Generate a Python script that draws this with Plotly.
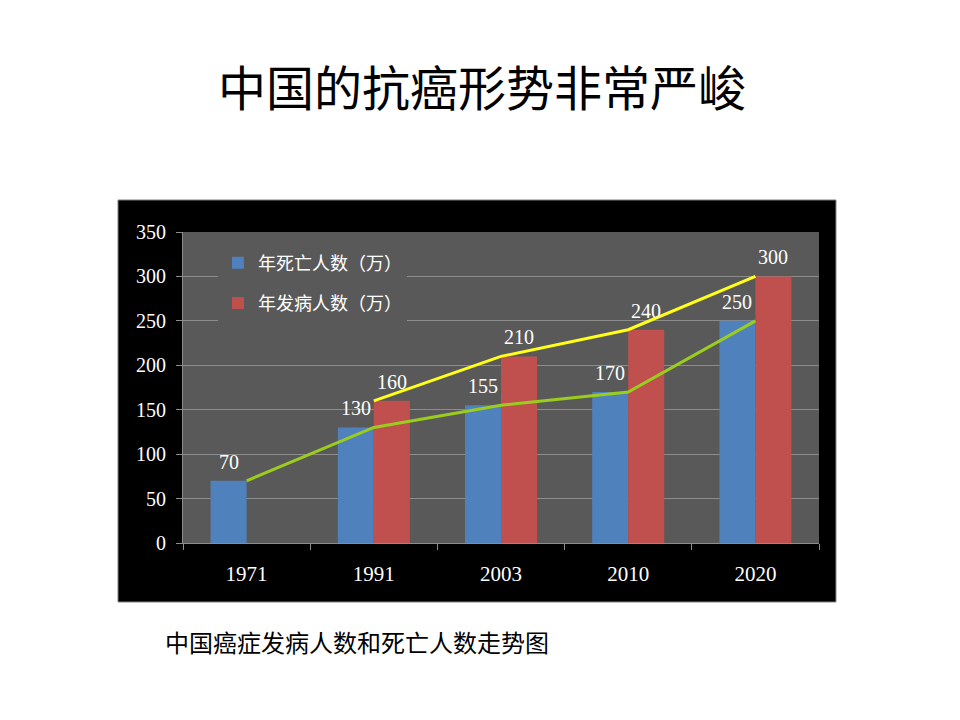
import plotly.graph_objects as go

# 中国癌症发病人数和死亡人数 (万)
years = ['1971', '1991', '2003', '2010', '2020']
deaths = [70, 130, 155, 170, 250]
cases = [None, 160, 210, 240, 300]

death_name = '年死亡人数（万）'
case_name = '年发病人数（万）'

serif = 'Liberation Serif, Noto Sans CJK SC, serif'
sans = 'Noto Sans CJK SC, sans-serif'

fig = go.Figure()

fig.add_trace(go.Bar(
    x=years, y=deaths, name=death_name, legendgroup='d',
    marker_color='#4F81BD', marker_line_width=0,
))
fig.add_trace(go.Bar(
    x=years, y=cases, name=case_name, legendgroup='c',
    marker_color='#C0504D', marker_line_width=0,
))

# trend lines
fig.add_trace(go.Scatter(
    x=years, y=deaths, mode='lines', showlegend=False,
    line=dict(color='#9ACD1E', width=3), hoverinfo='skip',
))
fig.add_trace(go.Scatter(
    x=years, y=cases, mode='lines', showlegend=False,
    line=dict(color='#FFFF1A', width=3), hoverinfo='skip',
))

# value labels above each bar (x given as category index)
for vals, side in ((deaths, -18), (cases, 18)):
    for i, v in enumerate(vals):
        if v is None:
            continue
        fig.add_annotation(x=i, y=v, text=str(v), showarrow=False,
                           xshift=side, yshift=19, yanchor='middle',
                           font=dict(family=serif, size=20, color='white'))

# black chart frame and grey plot area
fig.add_shape(type='rect', xref='paper', yref='paper', layer='below',
              x0=-0.1022, x1=1.0267, y0=-0.1897, y1=1.1029,
              fillcolor='black', line=dict(color='#7f7f7f', width=1))
fig.add_shape(type='rect', xref='paper', yref='paper', layer='below',
              x0=0, x1=1, y0=0, y1=1,
              fillcolor='#595959', line_width=0)

fig.add_annotation(text='中国的抗癌形势非常严峻', xref='paper', yref='paper',
                   x=0.470, y=1.4727, xanchor='center', yanchor='middle',
                   showarrow=False, font=dict(family=sans, size=48, color='black'))
fig.add_annotation(text='中国癌症发病人数和死亡人数走势图', xref='paper', yref='paper',
                   x=-0.031, y=-0.318, xanchor='left', yanchor='middle',
                   showarrow=False, font=dict(family=sans, size=24, color='black'))

fig.update_layout(
    width=960, height=720,
    margin=dict(l=175, r=149, t=224, b=185),
    paper_bgcolor='white',
    plot_bgcolor='rgba(0,0,0,0)',
    barmode='group', bargap=0.434, bargroupgap=0,
    showlegend=True,
    legend=dict(x=0.055, y=0.96, xanchor='left', yanchor='top',
                bgcolor='#595959', tracegroupgap=14,
                font=dict(family=serif, size=18, color='white'),
                itemsizing='constant'),
    xaxis=dict(type='category', range=[-0.5, 4.5],
               tickson='boundaries', ticks='outside', ticklen=6,
               tickcolor='#8c8c8c', showline=True, linecolor='#8c8c8c',
               showgrid=False, ticklabelstandoff=12,
               tickfont=dict(family=serif, size=21, color='white')),
    yaxis=dict(range=[0, 350], dtick=50, ticks='outside', ticklen=6,
               tickcolor='#8c8c8c', showline=True, linecolor='#8c8c8c',
               gridcolor='#8c8c8c', gridwidth=1, zeroline=False,
               ticklabelstandoff=6,
               tickfont=dict(family=serif, size=20, color='white')),
)

fig.write_html('out.html')
